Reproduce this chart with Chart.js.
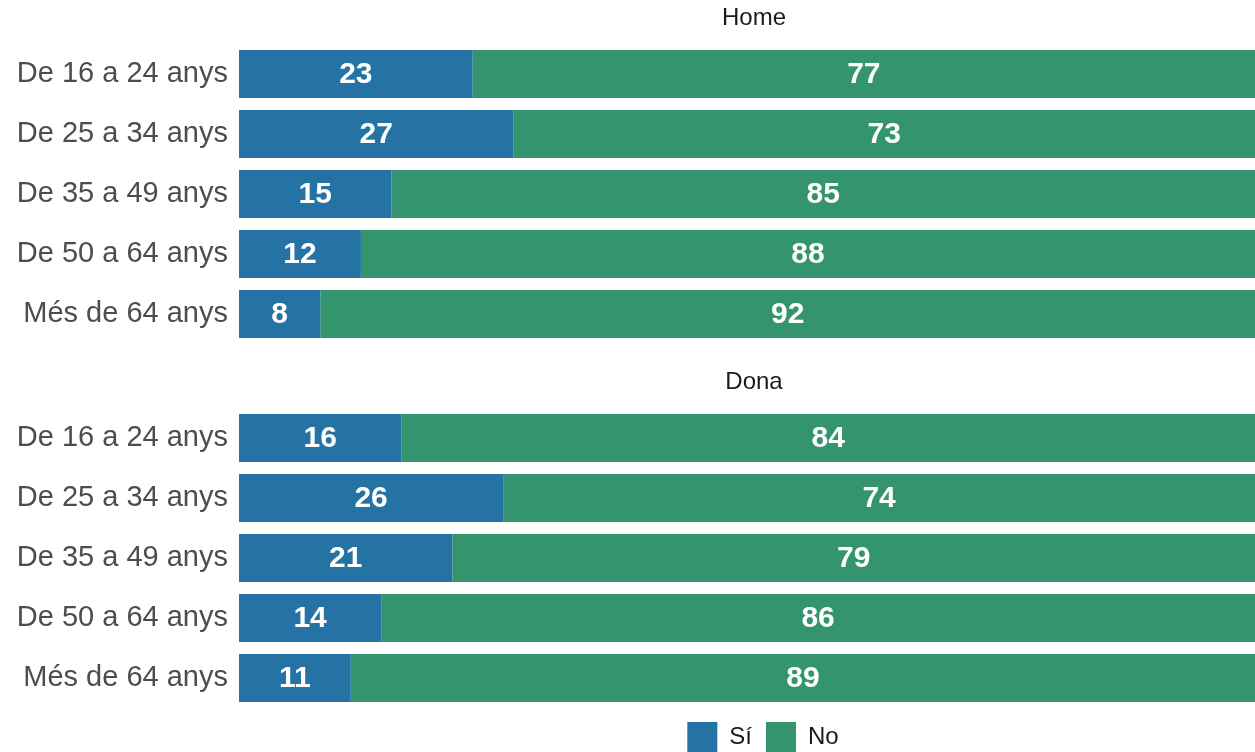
<!DOCTYPE html>
<html lang="ca">
<head>
<meta charset="utf-8">
<title>Home / Dona</title>
<script src="https://cdn.jsdelivr.net/npm/chart.js@4/dist/chart.umd.min.js"></script>
<style>
  html, body { margin: 0; padding: 0; background: #ffffff; overflow: hidden; }
  #grafHome { position: absolute; left: 0; top: 0; }
  #grafDona { position: absolute; left: 0; top: 364px; }
</style>
</head>
<body>
<canvas id="grafHome" width="1255" height="344"></canvas>
<canvas id="grafDona" width="1255" height="398"></canvas>
<script>
// Categories d'edat (mateixes per als dos panells)
const edats = ['De 16 a 24 anys', 'De 25 a 34 anys', 'De 35 a 49 anys', 'De 50 a 64 anys', 'Més de 64 anys'];

// Percentatges llegits del gràfic
const homeSi = [23, 27, 15, 12, 8];
const homeNo = [77, 73, 85, 88, 92];
const donaSi = [16, 26, 21, 14, 11];
const donaNo = [84, 74, 79, 86, 89];

const COLOR_SI = '#2473a4';
const COLOR_NO = '#33946e';
const FONT = '"Liberation Sans", Arial, sans-serif';

// Escriu el valor al centre de cada tros de barra
const etiquetesValors = {
    id: 'etiquetesValors',
    afterDatasetsDraw(chart) {
        const ctx = chart.ctx;
        ctx.save();
        ctx.font = 'bold 30px ' + FONT;
        ctx.fillStyle = '#ffffff';
        ctx.textAlign = 'center';
        ctx.textBaseline = 'middle';
        chart.data.datasets.forEach((ds, i) => {
            chart.getDatasetMeta(i).data.forEach((barra, j) => {
                const p = barra.getProps(['x', 'y', 'base'], true);
                ctx.fillText(ds.data[j], (p.x + p.base) / 2, p.y + 1);
            });
        });
        ctx.restore();
    }
};

// El títol i la llegenda de l'original estan una mica desplaçats a la dreta
const desplacaTitols = {
    id: 'desplacaTitols',
    afterLayout(chart) {
        if (chart.titleBlock) { chart.titleBlock.left += 7; chart.titleBlock.right += 7; }
        if (chart.legend && chart.legend.options.display) { chart.legend.left += 16; chart.legend.right += 16; }
    }
};

function crearGrafic(id, titol, si, no, ambLlegenda) {
    const ctx = document.getElementById(id).getContext('2d');
    return new Chart(ctx, {
        type: 'bar',
        data: {
            labels: edats,
            datasets: [
                { label: 'Sí', data: si, backgroundColor: COLOR_SI, borderWidth: 0 },
                { label: 'No', data: no, backgroundColor: COLOR_NO, borderWidth: 0 }
            ]
        },
        options: {
            indexAxis: 'y',
            responsive: false,
            animation: false,
            devicePixelRatio: 1,
            barPercentage: 0.8,
            categoryPercentage: 1,
            layout: { padding: 0 },
            scales: {
                x: { stacked: true, min: 0, max: 100, display: false },
                y: {
                    stacked: true,
                    grid: { display: false, drawTicks: false },
                    border: { display: false },
                    ticks: { color: '#4d4d4d', padding: 11, font: { family: FONT, size: 29 } },
                    afterFit(scale) {
                        scale.width = 239;
                        scale.paddingTop = 0;
                        scale.paddingBottom = 0;
                    }
                }
            },
            plugins: {
                tooltip: { enabled: false },
                title: {
                    display: true,
                    text: titol,
                    fullSize: false,
                    color: '#1a1a1a',
                    font: { family: FONT, size: 24, weight: 'normal' },
                    padding: { top: 3.6, bottom: 11.6 }
                },
                legend: {
                    display: ambLlegenda,
                    position: 'bottom',
                    fullSize: false,
                    labels: {
                        boxWidth: 30,
                        boxHeight: 30,
                        padding: 14,
                        color: '#1a1a1a',
                        font: { family: FONT, size: 24 }
                    }
                }
            }
        },
        plugins: [etiquetesValors, desplacaTitols]
    });
}

crearGrafic('grafHome', 'Home', homeSi, homeNo, false);
crearGrafic('grafDona', 'Dona', donaSi, donaNo, true);
</script>
</body>
</html>
